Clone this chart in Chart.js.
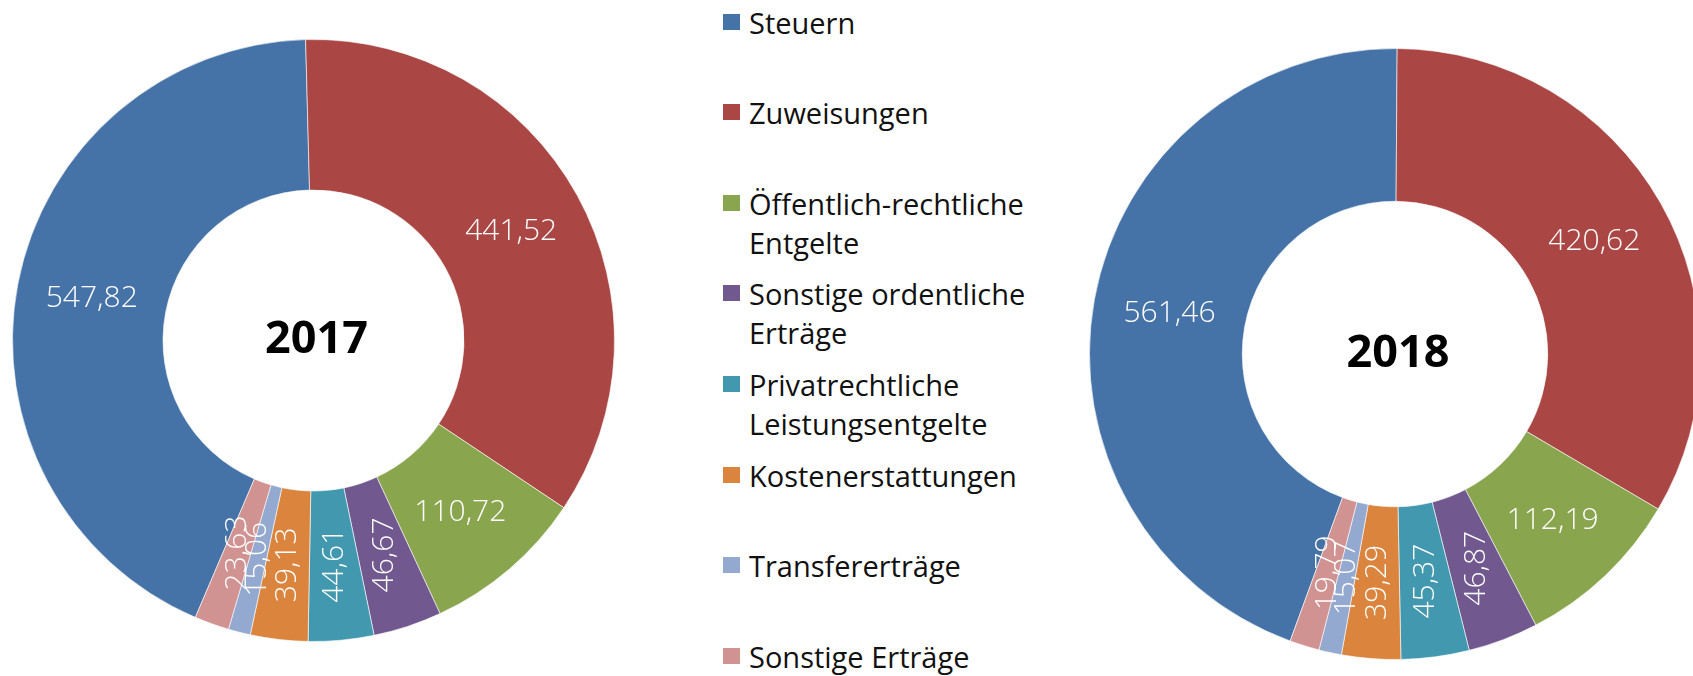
<!DOCTYPE html>
<html lang="de">
<head>
<meta charset="utf-8">
<title>Erträge 2017 / 2018</title>
<script src="https://cdn.jsdelivr.net/npm/chart.js@4/dist/chart.umd.min.js"></script>
<style>
    html, body {
        margin: 0;
        padding: 0;
        width: 1693px;
        height: 676px;
        overflow: hidden;
        background: #fff;
        font-family: 'Open Sans', 'Noto Sans', sans-serif;
    }
    .chart-box { position: absolute; }
    #box2017 { left: 12px; top: 39px; width: 603px; height: 603px; }
    #box2018 { left: 1089px; top: 48px; width: 612px; height: 612px; }
    #legend { position: absolute; left: 723px; top: 0; width: 420px; }
    .legend-item { position: absolute; left: 0; width: 420px; }
    .legend-item .swatch {
        position: absolute; left: 0; top: 11px; width: 17px; height: 16px;
    }
    .legend-item .text {
        position: absolute; left: 26px; top: 0; width: 300px;
        font-size: 29px; line-height: 39px; color: #111;
    }
</style>
</head>
<body>
<div id="box2017" class="chart-box"><canvas id="chart2017"></canvas></div>
<div id="legend"></div>
<div id="box2018" class="chart-box"><canvas id="chart2018"></canvas></div>

<script>
const categories = [
    'Steuern',
    'Zuweisungen',
    'Öffentlich-rechtliche Entgelte',
    'Sonstige ordentliche Erträge',
    'Privatrechtliche Leistungsentgelte',
    'Kostenerstattungen',
    'Transfererträge',
    'Sonstige Erträge'
];
const values2017 = [547.82, 441.52, 110.72, 46.67, 44.61, 39.13, 15.06, 23.63];
const values2018 = [561.46, 420.62, 112.19, 46.87, 45.37, 39.29, 15.07, 19.79];
const colors = ['#4572A7', '#AA4643', '#89A54E', '#71588F', '#4198AF', '#DB843D', '#93A9CF', '#D19392'];

function formatNum(v) {
    return v.toFixed(2).replace('.', ',');
}

// white value labels on the ring plus the year in the hole
const ringLabels = {
    id: 'ringLabels',
    afterDatasetsDraw(chart, args, opts) {
        const ctx = chart.ctx;
        const meta = chart.getDatasetMeta(0);
        const values = chart.data.datasets[0].data;
        ctx.save();
        ctx.fillStyle = '#fff';
        ctx.font = '300 30px "Open Sans", "Noto Sans", sans-serif';
        ctx.textAlign = 'center';
        ctx.textBaseline = 'middle';
        meta.data.forEach((arc, i) => {
            const p = arc.getCenterPoint();
            ctx.save();
            ctx.translate(p.x, p.y);
            if (values[i] < 60) ctx.rotate(-Math.PI / 2); // small slices get upright text
            ctx.fillText(formatNum(values[i]), 0, 0);
            ctx.restore();
        });
        const c = meta.data[0];
        ctx.fillStyle = '#000';
        ctx.font = 'bold 45px "Open Sans", "Noto Sans", sans-serif';
        ctx.fillText(opts.title, c.x + 3, c.y);
        ctx.restore();
    }
};

function makeDonut(canvasId, values, year, tilt) {
    const total = values.reduce((a, b) => a + b, 0);
    return new Chart(document.getElementById(canvasId), {
        type: 'doughnut',
        data: {
            labels: categories,
            datasets: [{
                data: values,
                backgroundColor: colors,
                borderColor: 'rgba(255,255,255,0.6)',
                borderWidth: 1
            }]
        },
        options: {
            responsive: true,
            maintainAspectRatio: false,
            animation: false,
            cutout: '50%',
            // Steuern ends near 12 o'clock, Zuweisungen starts there
            rotation: -360 * values[0] / total + tilt,
            layout: { padding: 0 },
            plugins: {
                legend: { display: false },
                tooltip: { enabled: false },
                ringLabels: { title: year }
            }
        },
        plugins: [ringLabels]
    });
}

makeDonut('chart2017', values2017, '2017', -1.5);
makeDonut('chart2018', values2018, '2018', 0.4);

// legend between the two rings
const legendEl = document.getElementById('legend');
categories.forEach((name, i) => {
    const item = document.createElement('div');
    item.className = 'legend-item';
    item.style.top = (22 + 90.6 * i - 19.5) + 'px';
    item.innerHTML = `<div class="swatch" style="background:${colors[i]}"></div><div class="text">${name}</div>`;
    legendEl.appendChild(item);
});
</script>
</body>
</html>
